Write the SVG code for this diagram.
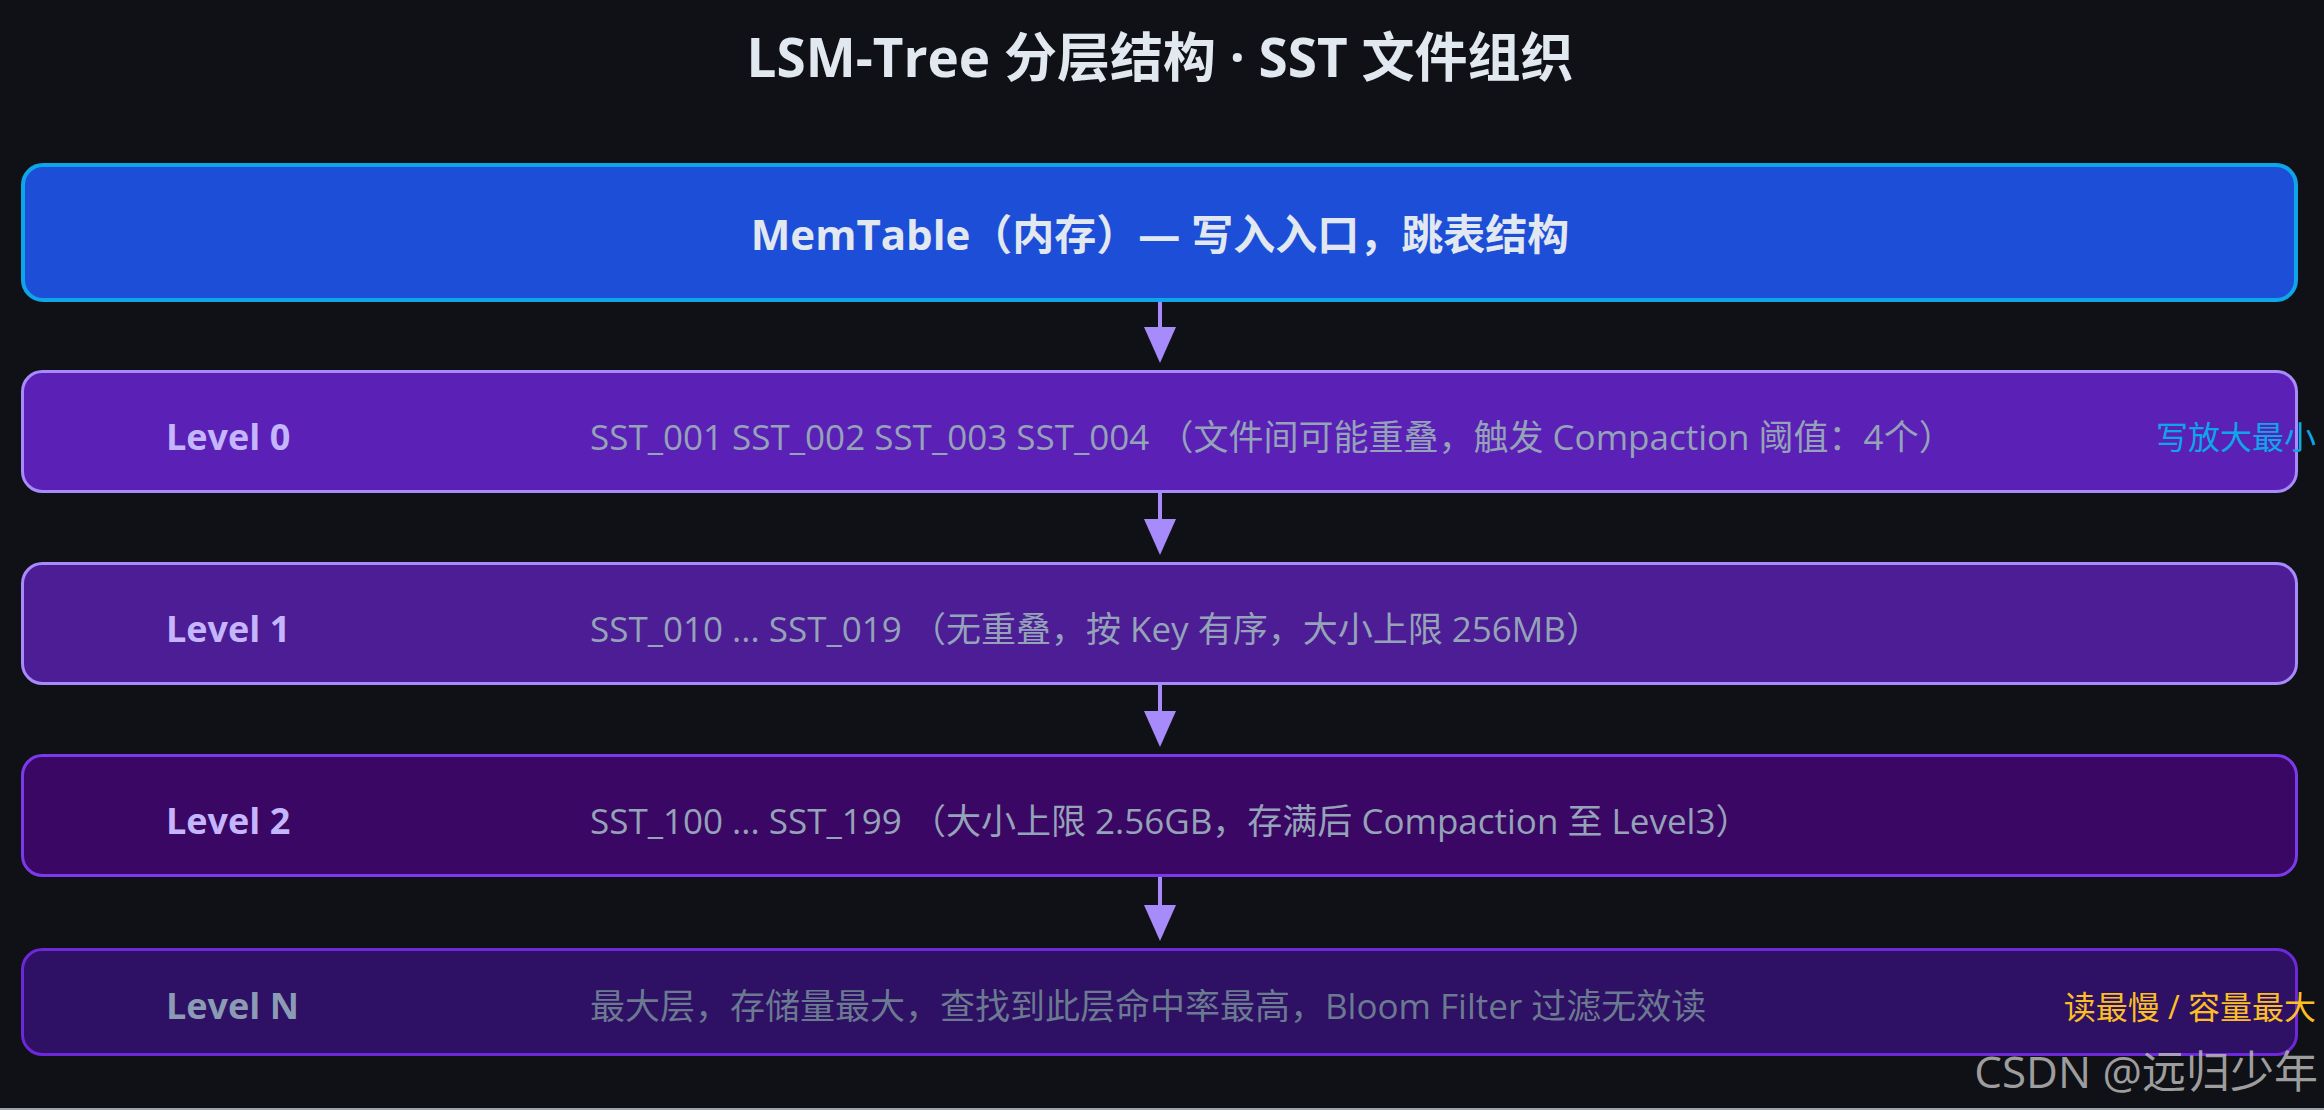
<svg xmlns="http://www.w3.org/2000/svg" width="2324" height="1110" viewBox="0 0 2324 1110">
<style>
text { font-family: "Open Sans", "Noto Sans CJK SC", sans-serif; }
.title { font-size: 53px; font-weight: 700; fill: #e2e8f0; }
.mem { font-size: 42px; font-weight: 700; fill: #e2e8f0; }
.lvl { font-size: 36px; font-weight: 700; fill: #c4b5fd; }
.desc { font-size: 35px; fill: #94a3b8; }
.box { stroke-width: 3; }
.conn { stroke: #a78bfa; stroke-width: 4; fill: none; }
.note { font-size: 32px; }
</style>
<defs>
<marker id="arrow" markerUnits="userSpaceOnUse" markerWidth="36" markerHeight="32" viewBox="0 0 36 32" refX="0" refY="16" orient="auto">
<path d="M0,0 L36,16 L0,32 z" fill="#a78bfa"/>
</marker>
</defs>
<rect x="0" y="0" width="2324" height="1110" fill="#101116"/>
<rect x="0" y="1108" width="2324" height="2" fill="#9ca3af"/>

<g id="title">
<text class="title" x="1160" y="77" text-anchor="middle">LSM-Tree 分层结构 · SST 文件组织</text>
</g>

<g id="memtable">
<rect x="23" y="165" width="2273" height="135" rx="20" fill="#1d4ed8" stroke="#0ea5e9" stroke-width="4"/>
<text class="mem" x="1160" y="250" text-anchor="middle">MemTable（内存）— 写入入口，跳表结构</text>
</g>

<g id="level0">
<rect class="box" x="22.5" y="371.5" width="2274" height="120" rx="20" fill="#5b21b6" stroke="#a78bfa"/>
<text class="lvl" x="166" y="450">Level 0</text>
<text class="desc" x="590" y="450">SST_001 SST_002 SST_003 SST_004 （文件间可能重叠，触发 Compaction 阈值：4个）</text>
<text class="note" x="2316" y="449" text-anchor="end" fill="#0ea5e9">写放大最小</text>
</g>

<g id="level1">
<rect class="box" x="22.5" y="563.5" width="2274" height="120" rx="20" fill="#4c1d95" stroke="#a78bfa"/>
<text class="lvl" x="166" y="642">Level 1</text>
<text class="desc" x="590" y="642">SST_010 ... SST_019 （无重叠，按 Key 有序，大小上限 256MB）</text>
</g>

<g id="level2">
<rect class="box" x="22.5" y="755.5" width="2274" height="120" rx="20" fill="#3b0764" stroke="#7c3aed"/>
<text class="lvl" x="166" y="834">Level 2</text>
<text class="desc" x="590" y="834">SST_100 ... SST_199 （大小上限 2.56GB，存满后 Compaction 至 Level3）</text>
</g>

<g id="levelN">
<rect class="box" x="22.5" y="949.5" width="2274" height="105" rx="20" fill="#2e1065" stroke="#6d28d9"/>
<text class="lvl" x="166" y="1019" style="fill:#8b9bb4">Level N</text>
<text class="desc" x="590" y="1019" style="fill:#6b7a90">最大层，存储量最大，查找到此层命中率最高，Bloom Filter 过滤无效读</text>
<text class="note" x="2316" y="1019" text-anchor="end" fill="#fbbf24">读最慢 / 容量最大</text>
</g>

<g id="connectors">
<line class="conn" x1="1160" y1="302" x2="1160" y2="327" marker-end="url(#arrow)"/>
<line class="conn" x1="1160" y1="493" x2="1160" y2="519" marker-end="url(#arrow)"/>
<line class="conn" x1="1160" y1="685" x2="1160" y2="711" marker-end="url(#arrow)"/>
<line class="conn" x1="1160" y1="877" x2="1160" y2="905" marker-end="url(#arrow)"/>
</g>

<g id="watermark">
<text x="2318" y="1088" text-anchor="end" font-size="44" fill="#b8b8b8" fill-opacity="0.85">CSDN @远归少年</text>
</g>
</svg>
